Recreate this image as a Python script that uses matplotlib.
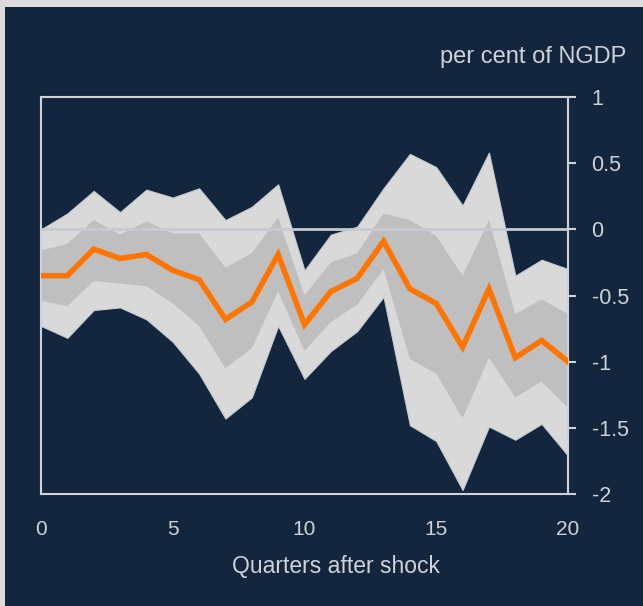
import matplotlib
matplotlib.use("Agg")
import matplotlib.pyplot as plt
from matplotlib.patches import Rectangle
import numpy as np

# quarters after the shock and response bands (per cent of NGDP)
quarters = list(range(21))
median = [-0.35, -0.35, -0.15, -0.22, -0.19, -0.31, -0.38, -0.68, -0.55, -0.19, -0.72,
          -0.47, -0.37, -0.09, -0.45, -0.56, -0.89, -0.45, -0.97, -0.84, -1.00]
inner_hi = [-0.16, -0.11, 0.07, -0.04, 0.06, -0.03, -0.03, -0.29, -0.18, 0.09, -0.50,
            -0.25, -0.18, 0.12, 0.07, -0.05, -0.35, 0.07, -0.64, -0.53, -0.64]
inner_lo = [-0.54, -0.58, -0.39, -0.41, -0.43, -0.56, -0.73, -1.05, -0.90, -0.47, -0.92,
            -0.70, -0.57, -0.30, -0.98, -1.09, -1.43, -0.97, -1.27, -1.15, -1.35]
outer_hi = [0.00, 0.12, 0.29, 0.13, 0.30, 0.24, 0.31, 0.07, 0.17, 0.34, -0.31,
            -0.04, 0.02, 0.31, 0.57, 0.47, 0.18, 0.58, -0.35, -0.23, -0.30]
outer_lo = [-0.73, -0.82, -0.61, -0.59, -0.68, -0.85, -1.09, -1.43, -1.27, -0.73, -1.13,
            -0.92, -0.77, -0.51, -1.48, -1.60, -1.97, -1.49, -1.59, -1.47, -1.71]

xticks = [0, 5, 10, 15, 20]
yticks = [-2, -1.5, -1, -0.5, 0, 0.5, 1]
ytick_labels = ["-2", "-1.5", "-1", "-0.5", "0", "0.5", "1"]

navy = "#13263e"
pale = "#cfd2d9"
tick_font = ["Liberation Sans Narrow", "Liberation Sans", "DejaVu Sans"]

fig = plt.figure(figsize=(6.43, 6.06), dpi=100, facecolor="#dcdcdc")
fig.patches.append(Rectangle((5 / 643, 0), 1, 1 - 7 / 606, transform=fig.transFigure,
                             facecolor=navy, edgecolor="none", zorder=-10))
ax = fig.add_axes([41 / 643, 112 / 606, 527 / 643, 397 / 606])
ax.set_facecolor(navy)

ax.fill_between(quarters, outer_lo, outer_hi, facecolor="#d9d9d9",
                edgecolor="#c8ccd4", linewidth=0.8, zorder=1)
ax.fill_between(quarters, inner_lo, inner_hi, facecolor="#bfbfbf",
                edgecolor="none", zorder=2)
ax.axhline(0, color="#c6cad3", linewidth=2, zorder=3)
ax.plot(quarters, median, color="#ff7500", linewidth=4, solid_joinstyle="miter", zorder=4)

ax.set_xlim(0, 20)
ax.set_ylim(-2, 1)
ax.set_xticks(xticks)
ax.set_xticklabels([str(t) for t in xticks], family=tick_font, fontsize=15, color=pale)
ax.set_yticks(yticks)
ax.set_yticklabels(ytick_labels, family=tick_font, fontsize=15.5, color=pale, ha="left")

ax.yaxis.tick_right()
ax.tick_params(axis="y", direction="out", length=6, width=1.5, color=pale, pad=11)
ax.tick_params(axis="x", length=0, pad=19)
for side in ax.spines.values():
    side.set_color(pale)
    side.set_linewidth(1.5)

fig.text(626 / 643, 1 - 63 / 606, "per cent of NGDP", ha="right", va="baseline",
         family="Liberation Sans", fontsize=17, color=pale)
fig.text(336 / 643, 1 - 573 / 606, "Quarters after shock", ha="center", va="baseline",
         family="Liberation Sans", fontsize=16.5, color=pale)

fig.savefig("out.png", dpi=100, facecolor=fig.get_facecolor())
